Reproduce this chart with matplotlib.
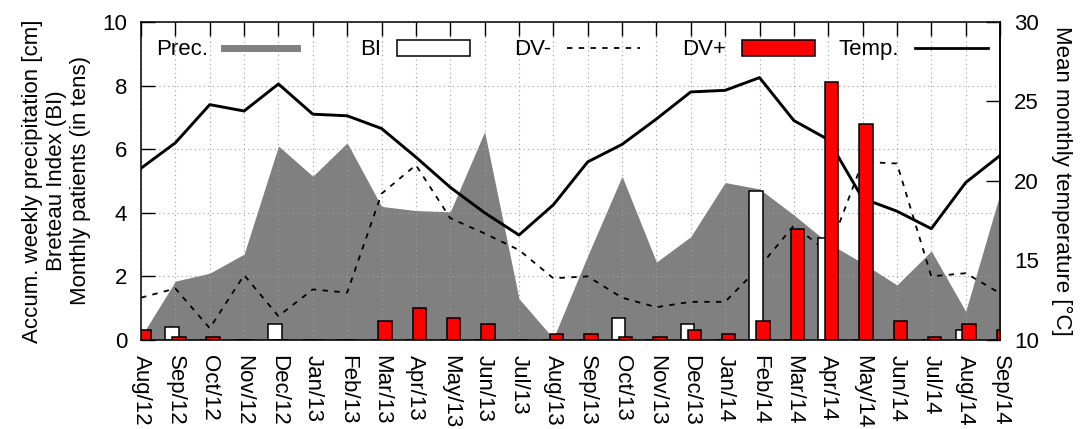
import numpy as np
import matplotlib
matplotlib.use('Agg')
import matplotlib.pyplot as plt
from matplotlib.patches import Rectangle
from matplotlib.lines import Line2D
from matplotlib.legend import Legend

plt.rcParams['font.family'] = ['Liberation Sans', 'DejaVu Sans']

months = ['Aug/12', 'Sep/12', 'Oct/12', 'Nov/12', 'Dec/12', 'Jan/13', 'Feb/13',
          'Mar/13', 'Apr/13', 'May/13', 'Jun/13', 'Jul/13', 'Aug/13', 'Sep/13',
          'Oct/13', 'Nov/13', 'Dec/13', 'Jan/14', 'Feb/14', 'Mar/14', 'Apr/14',
          'May/14', 'Jun/14', 'Jul/14', 'Aug/14', 'Sep/14']

# accumulated weekly precipitation [cm]
prec = [0.1, 1.85, 2.1, 2.7, 6.1, 5.15, 6.2, 4.2, 4.07, 4.03, 6.55, 1.3, 0.05,
        2.65, 5.15, 2.45, 3.25, 4.95, 4.75, 3.93, 3.05, 2.42, 1.73, 2.8, 0.9, 4.6]
# Breteau index
bi = [0, 0.4, 0, 0, 0.5, 0, 0, 0, 0, 0, 0, 0, 0,
      0, 0.7, 0, 0.5, 0, 4.7, 0, 3.2, 0, 0, 0, 0.3, 0]
# monthly patients (tens)
dv_pos = [0.3, 0.1, 0.1, 0, 0, 0, 0, 0.6, 1.0, 0.7, 0.5, 0, 0.2,
          0.2, 0.1, 0.1, 0.3, 0.2, 0.6, 3.5, 8.1, 6.8, 0.6, 0.1, 0.5, 0.3]
dv_neg = [1.33, 1.62, 0.37, 2.04, 0.75, 1.59, 1.49, 4.6, 5.5, 3.83, 3.35, 2.83, 1.94,
          2.0, 1.33, 1.03, 1.2, 1.2, 2.3, 3.6, 2.75, 5.6, 5.55, 2.0, 2.1, 1.47]
# mean monthly temperature [C]
temp = [20.8, 22.4, 24.8, 24.4, 26.1, 24.2, 24.1, 23.3, 21.5, 19.6, 18.0, 16.6, 18.5,
        21.2, 22.3, 23.9, 25.6, 25.7, 26.5, 23.8, 22.6, 18.9, 18.1, 17.0, 19.9, 21.6]

FS = 16
x = np.arange(len(months))


# right axis (temperature) <-> left axis
def to_temp(v):
    return 10 + 2 * np.asarray(v, dtype=float)


def from_temp(t):
    return (np.asarray(t, dtype=float) - 10) / 2


fig = plt.figure(figsize=(10.83, 4.29), dpi=100)
ax = fig.add_axes([0.1302, 0.2075, 0.7932, 0.7413])

ax.fill_between(x, prec, 0, color='#808080', lw=0, zorder=1)
ax.plot(x, dv_neg, color='black', lw=1.3, dashes=(3, 3.5), zorder=2)
ax.plot(x, from_temp(temp), color='black', lw=2.1, zorder=2)
ax.bar(x - 0.1, bi, width=0.39, facecolor='white', edgecolor='black', lw=1.1, zorder=3)
ax.bar(x + 0.1, dv_pos, width=0.39, facecolor='red', edgecolor='black', lw=1.1, zorder=3)

ax.set_xlim(0, 25)
ax.set_ylim(0, 10)
ax.set_xticks(x)
ax.set_xticklabels(months, rotation=270, fontsize=FS)
ax.set_yticks(range(0, 11, 2))
ax.tick_params(axis='y', direction='in', length=10, width=1, labelsize=FS, pad=10, right=False)
ax.tick_params(axis='x', direction='in', length=10, width=1, bottom=False, top=True, pad=11)
ax.set_axisbelow('line')
ax.grid(True, color='#a0a0a0', lw=0.8, linestyle=(0, (1, 3)))
for s in ax.spines.values():
    s.set_linewidth(1.1)
    s.set_zorder(4)

ax.set_ylabel('Accum. weekly precipitation [cm]\nBreteau Index (BI)\nMonthly patients (in tens)',
              fontsize=FS, linespacing=1.2, labelpad=8)

sec = ax.secondary_yaxis('right', functions=(to_temp, from_temp))
sec.set_yticks([10, 15, 20, 25, 30])
sec.tick_params(direction='in', length=10, width=1, labelsize=FS, pad=10)
sec.spines['right'].set_linewidth(1.1)
sec.set_ylabel('Mean monthly temperature [\u00b0C]', rotation=270, fontsize=FS, labelpad=24)

handles = [Line2D([], [], color='#808080', lw=5),
           Rectangle((0, 0), 1, 1, facecolor='white', edgecolor='black', lw=1.1),
           Line2D([], [], color='black', lw=1.3, dashes=(3, 3.5)),
           Rectangle((0, 0), 1, 1, facecolor='red', edgecolor='black', lw=1.1),
           Line2D([], [], color='black', lw=2)]
labels = ['Prec.', 'BI', 'DV-', 'DV+', 'Temp.']
anchors = [0.1816, 0.383, 0.581, 0.785, 0.986]
for h, lab, xa in zip(handles, labels, anchors):
    leg = Legend(ax, [h], [lab], loc='center right', bbox_to_anchor=(xa, 0.912),
                 frameon=False, markerfirst=False, handlelength=3.3, handleheight=0.72,
                 handletextpad=0.7, borderpad=0, borderaxespad=0, fontsize=FS)
    leg.set_zorder(5)
    ax.add_artist(leg)

fig.savefig('out.png', dpi=100)
